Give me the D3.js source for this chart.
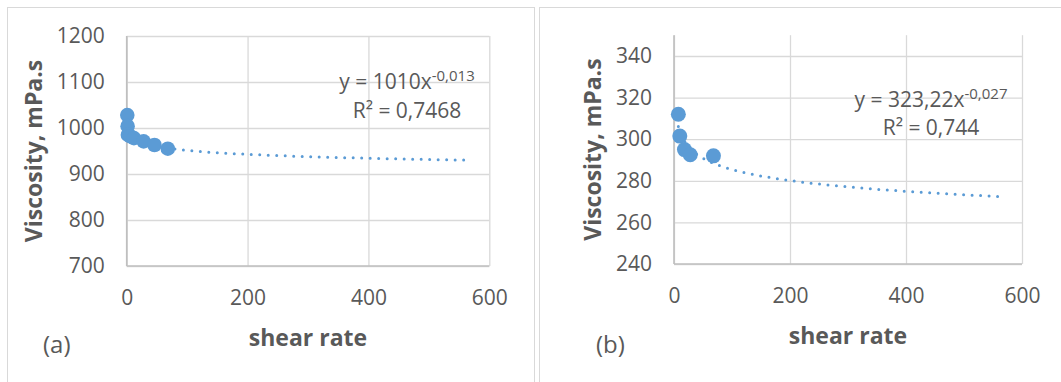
<!DOCTYPE html>
<html>
<head>
<meta charset="utf-8">
<script src="https://cdn.jsdelivr.net/npm/d3@7"></script>
<style>
  html, body { margin: 0; padding: 0; background: #ffffff; }
  svg { display: block; }
  text { font-family: "Open Sans", "Noto Sans", sans-serif; fill: #595959; }
</style>
</head>
<body>
<svg id="chart" width="1061" height="382"></svg>
<script>
// ---------------- DATA ----------------
// Panel (a)
const shearRateA = [1, 1.5, 2, 6, 12, 28, 46, 68];
const viscosityA = [1028, 1004, 985, 982, 978, 971, 963, 955];
const fitCoefA = [1010, -0.013];           // y = a * x^b
const fitRangeA = [1, 570];
const eqTextA = ["y = 1010x", "-0,013", "R² = 0,7468"];
const yTicksA = [700, 800, 900, 1000, 1100, 1200];
const yDomainA = [700, 1200];

// Panel (b)
const shearRateB = [7.5, 10, 18, 28, 68];
const viscosityB = [312, 301.5, 295, 292.5, 292];
const fitCoefB = [323.22, -0.027];
const fitRangeB = [7.5, 562];
const eqTextB = ["y = 323,22x", "-0,027", "R² = 0,744"];
const yTicksB = [240, 260, 280, 300, 320, 340];
const yDomainB = [240, 350];

const xTicks = [0, 200, 400, 600];
const xDomain = [0, 600];
const xTitle = "shear rate";
const yTitle = "Viscosity, mPa.s";
const panelLabels = ["(a)", "(b)"];

// ---------------- DRAW ----------------
const svg = d3.select("#chart");
const blue = "#5b9bd5";
const gridColor = "#d9d9d9";
const axisColor = "#bfbfbf";

// panel borders
svg.append("rect").attr("x", 7.5).attr("y", 7.5).attr("width", 527).attr("height", 400)
  .attr("fill", "none").attr("stroke", "#d9d9d9").attr("stroke-width", 1);
svg.append("rect").attr("x", 539.5).attr("y", 7.5).attr("width", 600).attr("height", 400)
  .attr("fill", "none").attr("stroke", "#d9d9d9").attr("stroke-width", 1);

function drawPanel(cfg) {
  const g = svg.append("g");
  const x = d3.scaleLinear().domain(xDomain).range([cfg.left, cfg.right]);
  const y = d3.scaleLinear().domain(cfg.yDomain).range([cfg.bottom, cfg.top]);

  // horizontal gridlines
  const yAxis = d3.axisLeft(y).tickValues(cfg.yTicks).tickSize(-(cfg.right - cfg.left)).tickPadding(22)
    .tickFormat(d3.format("d"));
  const gy = g.append("g").attr("transform", `translate(${cfg.left},0)`).call(yAxis);
  gy.select(".domain").remove();
  gy.selectAll(".tick line").attr("stroke", gridColor).attr("stroke-width", 1.3);
  gy.selectAll(".tick text").attr("font-size", 21).attr("fill", "#595959")
    .style("font-family", "'Open Sans', sans-serif");

  // vertical gridlines
  const xAxis = d3.axisBottom(x).tickValues(xTicks).tickSize(-(cfg.bottom - cfg.top)).tickPadding(24)
    .tickFormat(d3.format("d"));
  const gx = g.append("g").attr("transform", `translate(0,${cfg.bottom})`).call(xAxis);
  gx.select(".domain").remove();
  gx.selectAll(".tick line").attr("stroke", gridColor).attr("stroke-width", 1.3);
  gx.selectAll(".tick text").attr("font-size", 21).attr("fill", "#595959")
    .style("font-family", "'Open Sans', sans-serif");

  // axis lines
  g.append("line").attr("x1", cfg.left).attr("x2", cfg.left).attr("y1", cfg.top).attr("y2", cfg.bottom)
    .attr("stroke", axisColor).attr("stroke-width", 1.6);
  g.append("line").attr("x1", cfg.left).attr("x2", cfg.right).attr("y1", cfg.bottom).attr("y2", cfg.bottom)
    .attr("stroke", axisColor).attr("stroke-width", 1.6);

  // trendline from displayed fit
  const n = 200;
  const [x0, x1] = cfg.fitRange;
  const pts = d3.range(n + 1).map(i => {
    const xv = x0 + (x1 - x0) * i / n;
    return [xv, cfg.fit[0] * Math.pow(xv, cfg.fit[1])];
  });
  g.append("path").datum(pts)
    .attr("d", d3.line().x(d => x(d[0])).y(d => y(d[1])))
    .attr("fill", "none").attr("stroke", blue).attr("stroke-width", 3)
    .attr("stroke-linecap", "round").attr("stroke-dasharray", "0 8.5");

  // points
  g.selectAll("circle.pt").data(cfg.xs.map((d, i) => [d, cfg.ys[i]])).enter()
    .append("circle").attr("class", "pt")
    .attr("cx", d => x(d[0])).attr("cy", d => y(d[1])).attr("r", cfg.r)
    .attr("fill", blue);

  // equation
  const eq1 = g.append("text").attr("x", cfg.eqX).attr("y", cfg.eqY).attr("text-anchor", "middle")
    .attr("font-size", 21);
  eq1.append("tspan").text(cfg.eq[0]);
  eq1.append("tspan").attr("dy", -8).attr("font-size", 15).text(cfg.eq[1]);
  g.append("text").attr("x", cfg.eqX).attr("y", cfg.eqY + 28.5).attr("text-anchor", "middle")
    .attr("font-size", 21).text(cfg.eq[2]);

  // axis titles
  g.append("text").attr("transform", `translate(${cfg.yTitleX},${(cfg.top + cfg.bottom) / 2}) rotate(-90)`)
    .attr("text-anchor", "middle").attr("font-size", 23).attr("font-weight", "bold").text(yTitle);
  g.append("text").attr("x", (cfg.left + cfg.right) / 2).attr("y", cfg.xTitleY)
    .attr("text-anchor", "middle").attr("font-size", 23).attr("font-weight", "bold").text(xTitle);

  // panel label
  g.append("text").attr("x", cfg.labelX).attr("y", cfg.labelY).attr("font-size", 24).text(cfg.label);
}

drawPanel({
  left: 126.7, right: 489.3, top: 36, bottom: 266,
  yDomain: yDomainA, yTicks: yTicksA,
  xs: shearRateA, ys: viscosityA, r: 7.3,
  fit: fitCoefA, fitRange: fitRangeA, eq: eqTextA,
  eqX: 407, eqY: 89,
  yTitleX: 42, xTitleY: 346,
  label: panelLabels[0], labelX: 43, labelY: 353
});

drawPanel({
  left: 674, right: 1022, top: 35.2, bottom: 264,
  yDomain: yDomainB, yTicks: yTicksB,
  xs: shearRateB, ys: viscosityB, r: 7.5,
  fit: fitCoefB, fitRange: fitRangeB, eq: eqTextB,
  eqX: 931, eqY: 106.5,
  yTitleX: 601, xTitleY: 343.5,
  label: panelLabels[1], labelX: 596, labelY: 353
});
</script>
</body>
</html>
